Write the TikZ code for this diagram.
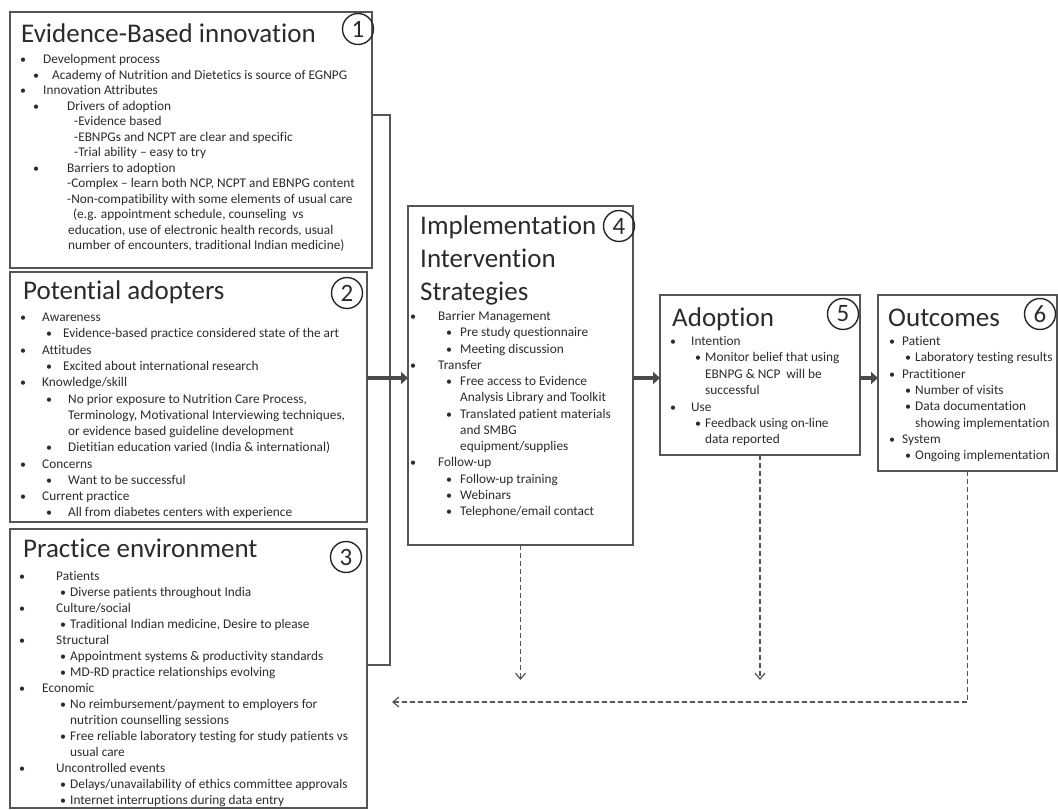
\documentclass[tikz,border=0pt]{standalone}
\usepackage{fontspec}
\setmainfont{Carlito}[Ligatures={TeX,NoCommon}]
\usetikzlibrary{arrows.meta}

\definecolor{ink}{HTML}{2B2B2B}
\definecolor{rulegray}{HTML}{555555}
\definecolor{flowgray}{HTML}{4A4A4A}

\tikzset{
  panel/.style={draw=rulegray, line width=1.3pt, anchor=north west,
    inner sep=0pt, outer sep=0pt},
  num/.style={draw=black!85, circle, line width=1.4pt, minimum size=31pt,
    inner sep=0pt, text=ink, font=\fontsize{25}{25}\selectfont},
  head/.style={anchor=base west, inner sep=0pt, text=ink,
    font=\fontsize{27}{29}\selectfont},
  txt/.style={anchor=base west, inner sep=0pt, text=ink,
    font=\fontsize{13.3}{15}\selectfont},
  dot/.style={anchor=base, inner sep=0pt, text=ink,
    font=\fontsize{12}{14}\selectfont},
  flow/.style={draw=flowgray, line width=4.5pt,
    -{Triangle[length=7pt,width=12pt]}},
  feedback/.style={draw=rulegray, line width=1.2pt, dash pattern=on 5pt off 3pt,
    -{Straight Barb[length=6pt,width=10pt]}}
}

\begin{document}
\begin{tikzpicture}[x=1pt,y=1pt,yscale=-1]
  \useasboundingbox (0,0) rectangle (1058,810);

  % the six panels
  \node[panel, minimum width=362pt, minimum height=256pt] (evid) at (10,12) {};
  \node[panel, minimum width=357pt, minimum height=250pt] (adopters) at (10,272) {};
  \node[panel, minimum width=357pt, minimum height=279pt] (envir) at (10,529) {};
  \node[panel, minimum width=225pt, minimum height=339pt] (impl) at (408,206) {};
  \node[panel, minimum width=200pt, minimum height=160pt] (adoption) at (660,295) {};
  \node[panel, minimum width=179pt, minimum height=176pt] (outc) at (878,295) {};

  % numbers
  \node[num] (n1) at (358,29) {1};
  \node[num] (n2) at (347,293) {2};
  \node[num] (n3) at (346,557) {3};
  \node[num] (n4) at (619,226) {4};
  \node[num] (n5) at (843,314) {5};
  \node[num] (n6) at (1040,314) {6};

  % headings
  \node[head] (evid-h) at (21,43) {Evidence-Based innovation};
  \node[head] (adopters-h) at (23,300) {Potential adopters};
  \node[head] (envir-h) at (23,557) {Practice environment};
  \node[head] (impl-h1) at (420,235) {Implementation};
  \node[head] (impl-h2) at (420,268) {Intervention};
  \node[head] (impl-h3) at (420,301) {Strategies};
  \node[head] (adoption-h) at (672,327) {Adoption};
  \node[head] (outc-h) at (888,327) {Outcomes};

  % panel 1
  \foreach \ly/\lb/\lx/\lt [count=\i] in {
      60/23/43/{Development process},
      75.5/36/52/{Academy of Nutrition and Dietetics is source of EGNPG},
      91/23/43/{Innovation Attributes},
      106.5/36/67/{Drivers of adoption},
      122/0/74/{-Evidence based},
      137.5/0/74/{-EBNPGs and NCPT are clear and specific},
      153/0/74/{-Trial ability – easy to try},
      168.5/36/67/{Barriers to adoption},
      184/0/67/{-Complex – learn both NCP, NCPT and EBNPG content},
      199.5/0/67/{-Non-compatibility with some elements of usual care},
      215/0/73/{(e.g. appointment schedule, counseling\ \ vs},
      230.5/0/68/{education, use of electronic health records, usual},
      246/0/68/{number of encounters, traditional Indian medicine)}}{
    \ifnum\lb>0 \node[dot] (evid-b\i) at (\lb,\ly+3.8) {\textbullet}; \fi
    \node[txt] (evid-t\i) at (\lx,\ly+3.8) {\lt};
  }

  % panel 2
  \foreach \ly/\lb/\lx/\lt [count=\i] in {
      318/23/42/{Awareness},
      334/49/63/{Evidence-based practice considered state of the art},
      351/23/42/{Attitudes},
      367/49/63/{Excited about international research},
      383/23/42/{Knowledge/skill},
      399.5/49/68/{No prior exposure to Nutrition Care Process,},
      416/0/68/{Terminology, Motivational Interviewing techniques,},
      432/0/68/{or evidence based guideline development},
      448/49/68/{Dietitian education varied (India \& international)},
      464.5/23/42/{Concerns},
      481/49/68/{Want to be successful},
      497/23/42/{Current practice},
      513/49/68/{All from diabetes centers with experience}}{
    \ifnum\lb>0 \node[dot] (adopters-b\i) at (\lb,\ly+3.8) {\textbullet}; \fi
    \node[txt] (adopters-t\i) at (\lx,\ly+3.8) {\lt};
  }

  % panel 3
  \foreach \ly/\lb/\lx/\lt [count=\i] in {
      577/22/56/{Patients},
      593/63/70/{Diverse patients throughout India},
      609/22/56/{Culture/social},
      625/63/70/{Traditional Indian medicine, Desire to please},
      641/22/56/{Structural},
      657/63/70/{Appointment systems \& productivity standards},
      673/63/70/{MD-RD practice relationships evolving},
      689/22/42/{Economic},
      705/63/70/{No reimbursement/payment to employers for},
      721/0/70/{nutrition counselling sessions},
      737/63/70/{Free reliable laboratory testing for study patients vs},
      753/0/70/{usual care},
      769/22/56/{Uncontrolled events},
      785/63/70/{Delays/unavailability of ethics committee approvals},
      801/63/70/{Internet interruptions during data entry}}{
    \ifnum\lb>0 \node[dot] (envir-b\i) at (\lb,\ly+3.8) {\textbullet}; \fi
    \node[txt] (envir-t\i) at (\lx,\ly+3.8) {\lt};
  }

  % panel 4
  \foreach \ly/\lb/\lx/\lt [count=\i] in {
      317/413/438/{Barrier Management},
      333/449/460/{Pre study questionnaire},
      349.5/449/460/{Meeting discussion},
      366/413/438/{Transfer},
      382/449/460/{Free access to Evidence},
      398/0/460/{Analysis Library and Toolkit},
      414.5/449/460/{Translated patient materials},
      431/0/460/{and SMBG},
      447/0/460/{equipment/supplies},
      463/413/438/{Follow-up},
      480/449/460/{Follow-up training},
      496/449/460/{Webinars},
      512/449/460/{Telephone/email contact}}{
    \ifnum\lb>0 \node[dot] (impl-b\i) at (\lb,\ly+3.8) {\textbullet}; \fi
    \node[txt] (impl-t\i) at (\lx,\ly+3.8) {\lt};
  }

  % panel 5
  \foreach \ly/\lb/\lx/\lt [count=\i] in {
      342/673/691/{Intention},
      358/698/705/{Monitor belief that using},
      375/0/705/{EBNPG \& NCP\ \ will be},
      391/0/705/{successful},
      408/673/691/{Use},
      424/698/705/{Feedback using on-line},
      440/0/705/{data reported}}{
    \ifnum\lb>0 \node[dot] (adoption-b\i) at (\lb,\ly+3.8) {\textbullet}; \fi
    \node[txt] (adoption-t\i) at (\lx,\ly+3.8) {\lt};
  }

  % panel 6
  \foreach \ly/\lb/\lx/\lt [count=\i] in {
      342/892/902/{Patient},
      358/908/915/{Laboratory testing results},
      375/892/902/{Practitioner},
      391/908/915/{Number of visits},
      407/908/915/{Data documentation},
      424/0/915/{showing implementation},
      440/892/902/{System},
      456/908/915/{Ongoing implementation}}{
    \ifnum\lb>0 \node[dot] (outc-b\i) at (\lb,\ly+3.8) {\textbullet}; \fi
    \node[txt] (outc-t\i) at (\lx,\ly+3.8) {\lt};
  }

  % bracket round panels 1-3
  \coordinate (brtop) at (390,115);
  \coordinate (brbot) at (390,665);
  \draw[rulegray, line width=1.3pt]
    (evid.east |- brtop) -- (brtop) -- (brbot) -- (envir.east |- brbot);

  % main flow
  \coordinate (flowy) at (0,378);
  \draw[flow] (adopters.east |- flowy) -- (impl.west |- flowy);
  \draw[flow] (impl.east |- flowy) -- (adoption.west |- flowy);
  \draw[flow] (adoption.east |- flowy) -- (outc.west |- flowy);

  % feedback
  \coordinate (tipy) at (0,680);
  \coordinate (fbend) at (392,702);
  \draw[feedback] (impl.south) -- (impl.south |- tipy);
  \draw[feedback] (adoption.south) -- (adoption.south |- tipy);
  \draw[feedback] (outc.south) |- (fbend);
\end{tikzpicture}
\end{document}
